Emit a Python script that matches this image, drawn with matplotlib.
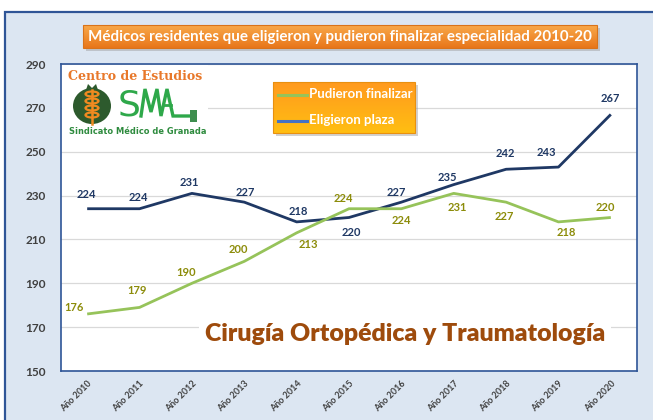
import matplotlib
matplotlib.use("Agg")
import matplotlib.pyplot as plt
import numpy as np
from matplotlib.patches import Rectangle, FancyBboxPatch, Ellipse, Polygon

# ---------------- data ----------------
years = ["Año 2010", "Año 2011", "Año 2012", "Año 2013", "Año 2014", "Año 2015",
         "Año 2016", "Año 2017", "Año 2018", "Año 2019", "Año 2020"]
eligieron = [224, 224, 231, 227, 218, 220, 227, 235, 242, 243, 267]
pudieron = [176, 179, 190, 200, 213, 224, 224, 231, 227, 218, 220]
yticks = [150, 170, 190, 210, 230, 250, 270, 290]
title = "Médicos residentes que eligieron y pudieron finalizar especialidad 2010-20"
subtitle = "Cirugía Ortopédica y Traumatología"
legend_labels = ["Pudieron finalizar", "Eligieron plaza"]

# label offsets (pixels) - style only
off_green = [(-13, 6), (-2, 17), (-6, 11), (-6, 12), (12, -12), (-6, 10),
             (0, -12), (4, -14), (-2, -14), (8, -11), (-5, 10)]
off_blue = [(-1, 14), (-1, 11), (-3, 11), (1, 10), (2, 10), (2, -15),
            (-5, 10), (-6, 7), (-1, 16), (-12, 15), (-1, 16)]

W, H = 653, 420
BLUE = "#1F3864"
GREEN = "#96C35A"
GREEN_TXT = "#8C8C0A"
FRAME = "#2F5597"
BG = "#DCE6F2"
FONT = ["Lato", "DejaVu Sans"]

fig = plt.figure(figsize=(W / 100, H / 100), dpi=100)
fig.patch.set_facecolor("white")

# background axes
axb = fig.add_axes([0, 0, 1, 1], zorder=0)
axb.set_xlim(0, W); axb.set_ylim(H, 0); axb.axis("off")
axb.add_patch(Rectangle((5, 12), W + 10, H + 10, facecolor=BG, edgecolor=FRAME, lw=1.6))

# main axes
L, R, T, B = 61, 637, 64, 371
ax = fig.add_axes([L / W, (H - B) / H, (R - L) / W, (B - T) / H], zorder=1)
ax.set_facecolor("white")
x = np.arange(len(years))
ax.set_xlim(-0.5, len(years) - 0.5)
ax.set_ylim(150, 290)
ax.set_yticks(yticks)
ax.set_xticks(x)
ax.set_xticklabels(years, rotation=45, ha="right", va="top", rotation_mode="anchor",
                   fontsize=6.5, color="#404040", fontweight="bold", family=FONT)
ax.set_yticklabels([str(v) for v in yticks], fontsize=8.5, color="#404040",
                   fontweight="bold", family=FONT)
ax.tick_params(axis="both", length=0)
ax.tick_params(axis="y", pad=11)
ax.tick_params(axis="x", pad=6)
ax.grid(axis="y", color="#D9D9D9", lw=0.9)
ax.set_axisbelow(True)
for s in ax.spines.values():
    s.set_color(FRAME); s.set_linewidth(1.2)

ax.plot(x, eligieron, color=BLUE, lw=2.0, solid_capstyle="butt", zorder=3)
ax.plot(x, pudieron, color=GREEN, lw=2.0, solid_capstyle="butt", zorder=3)
for i, v in enumerate(pudieron):
    ax.annotate(str(v), (x[i], v), xytext=off_green[i], textcoords="offset pixels",
                ha="center", va="center", fontsize=8, fontweight="bold",
                color=GREEN_TXT, family=FONT, zorder=4)
for i, v in enumerate(eligieron):
    ax.annotate(str(v), (x[i], v), xytext=off_blue[i], textcoords="offset pixels",
                ha="center", va="center", fontsize=8, fontweight="bold",
                color=BLUE, family=FONT, zorder=4)

# overlay axes in pixel coordinates
axo = fig.add_axes([0, 0, 1, 1], zorder=3)
axo.set_xlim(0, W); axo.set_ylim(H, 0); axo.axis("off")
axo.patch.set_alpha(0)

renderer = fig.canvas.get_renderer()
def fit(t, width):
    bb = t.get_window_extent(renderer)
    t.set_fontsize(t.get_fontsize() * width / bb.width)

def grad_box(x0, y0, x1, y1, c_top, c_bot, edge):
    axo.add_patch(Rectangle((x0 + 3, y0 + 3), x1 - x0, y1 - y0, facecolor="#9A9A9A",
                            edgecolor="none", alpha=0.45, zorder=1))
    n = 64
    top = np.array(matplotlib.colors.to_rgb(c_top))
    bot = np.array(matplotlib.colors.to_rgb(c_bot))
    g = np.linspace(0, 1, n)[:, None, None]
    img = top * (1 - g) + bot * g
    img = np.repeat(img, 2, axis=1)
    axo.imshow(img, extent=[x0, x1, y1, y0], aspect="auto", zorder=2, interpolation="bilinear")
    axo.add_patch(Rectangle((x0, y0), x1 - x0, y1 - y0, facecolor="none",
                            edgecolor=edge, lw=0.8, zorder=3))

# title box
grad_box(83, 25, 597, 48, "#F9A94A", "#E8761A", "#D9731A")
tt = axo.text(340, 36.5, title, ha="center", va="center", color="white",
              fontweight="bold", fontsize=10, family=FONT, zorder=4)
fit(tt, 504)

# legend box
grad_box(273, 82, 415, 133, "#FF9A1E", "#FFBE12", "#E89010")
axo.plot([278, 307], [94.5, 94.5], color=GREEN, lw=2.2, zorder=4)
axo.plot([278, 307], [120.5, 120.5], color="#4472C4", lw=2.2, zorder=4)
l1 = axo.text(309, 94.5, legend_labels[0], ha="left", va="center", color="white",
              fontweight="bold", fontsize=9, family=FONT, zorder=4)
fit(l1, 104)
l2 = axo.text(309, 120.5, legend_labels[1], ha="left", va="center", color="white",
              fontweight="bold", fontsize=l1.get_fontsize(), family=FONT, zorder=4)

# subtitle
st = axo.text(405, 334, subtitle, ha="center", va="center", color="#9E4B0C",
              fontweight="heavy", fontsize=18, family=FONT, zorder=4,
              bbox=dict(boxstyle="square,pad=0.25", facecolor="white", edgecolor="none"))
fit(st, 400)

# logo
axo.add_patch(Rectangle((62, 65), 146, 76, facecolor="white", edgecolor="none", zorder=1))
ce = axo.text(68, 76, "Centro de Estudios", ha="left", va="center", color="#E8782A",
              fontweight="bold", fontsize=10, family=["DejaVu Serif"], zorder=4)
fit(ce, 135)
sg = axo.text(69, 132, "Sindicato Médico de Granada", ha="left", va="center",
              color="#2E8B3E", fontsize=8, fontweight="bold",
              family=["Liberation Sans Narrow", "DejaVu Sans"], zorder=4)
fit(sg, 136)
# pomegranate
axo.add_patch(Polygon([[86, 90], [88, 84], [92, 88], [96, 84], [98, 90]],
                      closed=True, facecolor="#2D5A2D", edgecolor="none", zorder=3))
axo.add_patch(Ellipse((92, 106), 38, 36, facecolor="#2D5A2D", edgecolor="none", zorder=3))
for yy in [94, 101, 108, 115]:
    axo.add_patch(Ellipse((92, yy), 13, 5, facecolor="none", edgecolor="#F08A20", lw=1.6, zorder=4))
axo.plot([92, 92], [90, 124], color="#F08A20", lw=1.8, zorder=4)
# SMA
sm = axo.text(118, 116, "S", ha="left", va="baseline", color="#2EA84A",
              fontsize=26, family=["Liberation Sans Narrow", "DejaVu Sans"], zorder=4)
axo.plot([141, 145, 151, 157, 161, 167, 173, 193],
         [116, 89, 112, 89, 116, 89, 116, 116], color="#2EA84A", lw=2.4,
         solid_joinstyle="miter", zorder=4)
axo.plot([163, 171], [105, 105], color="#2EA84A", lw=2.0, zorder=4)
axo.add_patch(Rectangle((190, 110), 7, 12, facecolor="#3E8E4E", edgecolor="none", zorder=4))

fig.savefig("out.png", dpi=100)
